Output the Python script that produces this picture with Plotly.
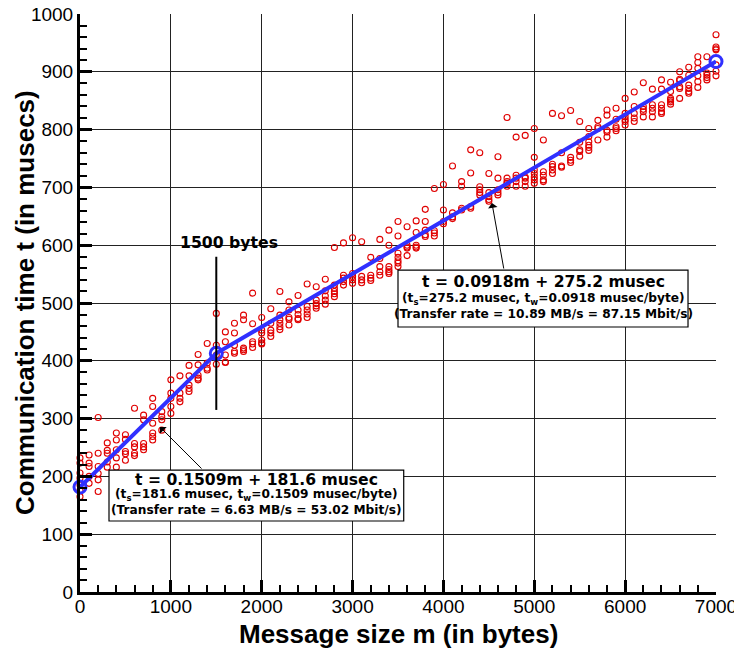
import plotly.graph_objects as go

# ---- data ----
sizes = [0, 100, 200, 300, 400, 500, 600, 700, 800, 900,
         1000, 1100, 1200, 1300, 1400, 1500, 1600, 1700, 1800, 1900,
         2000, 2100, 2200, 2300, 2400, 2500, 2600, 2700, 2800, 2900,
         3000, 3100, 3200, 3300, 3400, 3500, 3600, 3700, 3800, 3900,
         4000, 4100, 4200, 4300, 4400, 4500, 4600, 4700, 4800, 4900,
         5000, 5100, 5200, 5300, 5400, 5500, 5600, 5700, 5800, 5900,
         6000, 6100, 6200, 6300, 6400, 6500, 6600, 6700, 6800, 6900, 7000]

times_by_size = [
    [232, 223, 206, 197, 185, 176, 165],
    [237, 223, 217, 200, 188],
    [302, 240, 217, 205, 194, 174],
    [258, 245, 240, 225, 216],
    [275, 263, 246, 232, 216],
    [272, 264, 243, 239, 228],
    [318, 257, 251, 240, 236],
    [306, 298, 257, 251, 246],
    [335, 321, 292, 275, 269, 263],
    [312, 303, 298, 280],
    [367, 344, 335, 321, 309],
    [374, 344, 335, 329],
    [392, 374, 358, 352, 347],
    [411, 393, 375, 370, 367],
    [430, 396, 387, 384],
    [482, 427, 410, 394],
    [450, 433, 410, 398, 397],
    [465, 448, 427, 416, 413],
    [479, 471, 422, 419, 416],
    [517, 464, 433, 429, 423],
    [475, 453, 448, 436, 431, 429],
    [490, 465, 453, 448, 442],
    [520, 479, 471, 465, 459, 454],
    [502, 488, 475, 472, 462],
    [513, 488, 480, 473, 471],
    [533, 494, 488, 481, 475],
    [528, 505, 499, 495, 491],
    [541, 521, 512, 505, 498],
    [596, 531, 525, 520, 516, 511],
    [604, 548, 543, 537, 531],
    [613, 551, 546, 540, 534],
    [606, 546, 540, 535],
    [579, 548, 543, 539],
    [610, 577, 563, 554, 548],
    [626, 600, 563, 558, 554, 551],
    [641, 616, 586, 579, 573, 569, 563],
    [632, 600, 597, 595, 582],
    [642, 622, 600, 597, 595],
    [662, 641, 626, 618, 615],
    [698, 625, 621, 616],
    [705, 661, 641, 637],
    [737, 656, 649, 646],
    [710, 702, 664, 661],
    [765, 725, 667, 664],
    [760, 701, 696, 691, 687],
    [724, 691, 684, 679, 676],
    [753, 716, 696, 691, 687],
    [821, 716, 710, 707, 702],
    [787, 721, 716, 710, 702],
    [790, 718, 716, 710, 702],
    [802, 752, 730, 724, 718, 713, 707],
    [782, 727, 721, 713, 710],
    [828, 740, 736, 730, 724],
    [824, 760, 737, 735],
    [833, 752, 747, 743],
    [814, 778, 765, 762, 754],
    [802, 788, 779, 773, 769, 764],
    [816, 805, 802, 782],
    [834, 825, 799, 796, 787],
    [837, 818, 805, 802, 798],
    [854, 828, 822, 817, 814, 808],
    [865, 840, 828, 820, 814],
    [881, 840, 835, 831, 822],
    [870, 843, 837, 831, 822],
    [886, 870, 843, 837, 831, 828],
    [882, 866, 854, 851, 848, 844],
    [900, 887, 885, 874, 871, 854],
    [908, 894, 877, 871, 866, 863],
    [926, 916, 906, 893, 883, 873],
    [926, 898, 894, 890, 886],
    [964, 943, 940, 938, 912, 901, 893],
]

fit_m = [0, 1500, 7000]
fit_t = [181.6, 412.9, 917.8]

x_ticks = [0, 1000, 2000, 3000, 4000, 5000, 6000, 7000]
y_ticks = [0, 100, 200, 300, 400, 500, 600, 700, 800, 900, 1000]

FONT = "Liberation Sans, Arial, sans-serif"
BOXFONT = "DejaVu Sans, Verdana, sans-serif"

pts_m = [m for m, ts in zip(sizes, times_by_size) for _ in ts]
pts_t = [t for ts in times_by_size for t in ts]

fig = go.Figure()
fig.add_trace(go.Scatter(
    x=pts_m, y=pts_t, mode="markers",
    marker=dict(symbol="circle-open", size=6, color="#e00000",
                line=dict(width=1.1, color="#e00000")),
    cliponaxis=False, showlegend=False, hoverinfo="skip"))
fig.add_trace(go.Scatter(
    x=fit_m, y=fit_t, mode="lines+markers",
    line=dict(color="#3030ff", width=4),
    marker=dict(symbol="circle-open", size=12, color="#3030ff",
                line=dict(width=3, color="#3030ff")),
    cliponaxis=False, showlegend=False))

# box shapes and the 1500-byte marker line
fig.add_shape(type="line", xref="x", yref="y", x0=1500, x1=1500, y0=315, y1=580,
              line=dict(color="black", width=2))
fig.add_shape(type="rect", xref="paper", yref="paper",
              x0=0.0456, x1=0.509, y0=0.1228, y1=0.211,
              fillcolor="white", line=dict(color="black", width=1.2), layer="above")
fig.add_shape(type="rect", xref="paper", yref="paper",
              x0=0.5, x1=0.956, y0=0.4585, y1=0.557,
              fillcolor="white", line=dict(color="black", width=1.2), layer="above")

def px_y(py):
    return (592 - py) / 578.0

def px_x(px):
    return (px - 80) / 636.0

def txt(x, y, text, size, angle=0, family=FONT):
    return dict(xref="paper", yref="paper", x=x, y=y, xanchor="center", yanchor="middle",
                showarrow=False, text=text, textangle=angle,
                font=dict(size=size, family=family, color="black"))

ann = []
ann.append(txt(px_x(256), px_y(480), "<b>t = 0.1509m + 181.6 musec</b>", 15.6, family=BOXFONT))
ann.append(txt(px_x(256), px_y(495.5), "<b>(t<sub>s</sub>=181.6 musec, t<sub>w</sub>=0.1509 musec/byte)</b>", 12.2, family=BOXFONT))
ann.append(txt(px_x(256), px_y(509.5), "<b>(Transfer rate = 6.63 MB/s = 53.02 Mbit/s)</b>", 12.2, family=BOXFONT))
ann.append(txt(px_x(543), px_y(281.5), "<b>t = 0.0918m + 275.2 musec</b>", 15.6, family=BOXFONT))
ann.append(txt(px_x(543), px_y(298.5), "<b>(t<sub>s</sub>=275.2 musec, t<sub>w</sub>=0.0918 musec/byte)</b>", 12.2, family=BOXFONT))
ann.append(txt(px_x(543), px_y(313.5), "<b>(Transfer rate = 10.89 MB/s = 87.15 Mbit/s)</b>", 12.2, family=BOXFONT))
# arrows
ann.append(dict(xref="x", yref="y", axref="x", ayref="y", x=880, y=285.5, ax=1354, ay=211,
                text="", showarrow=True, arrowhead=1, arrowsize=1.6, arrowwidth=1, arrowcolor="black"))
ann.append(dict(xref="x", yref="y", axref="x", ayref="y", x=4534, y=673, ax=4667, ay=557,
                text="", showarrow=True, arrowhead=1, arrowsize=1.6, arrowwidth=1, arrowcolor="black"))
# 1500 bytes label
ann.append(dict(xref="x", yref="y", x=1640, y=604, xanchor="center", yanchor="middle", showarrow=False,
                text="<b>1500 bytes</b>", font=dict(size=15.7, family=BOXFONT, color="black")))
# axis titles
ann.append(txt(0.5, px_y(634), "<b>Message size m (in bytes)</b>", 26))
ann.append(txt(px_x(25), 0.5, "<b>Communication time t (in musecs)</b>", 26, -90))

# page body has an 8px margin, so the figure is offset by 8px
fig.update_layout(
    width=734, height=648,
    margin=dict(l=72, r=26, t=6, b=64, autoexpand=False),
    paper_bgcolor="white", plot_bgcolor="white",
    font=dict(family=FONT, size=19, color="black"),
    annotations=ann, showlegend=False,
)
common = dict(showgrid=True, gridcolor="#222", gridwidth=1.3,
              showline=True, linecolor="black", linewidth=3, mirror=False,
              ticks="inside", ticklen=12, tickwidth=3, tickcolor="black",
              zeroline=False, automargin=False, ticklabeloverflow="allow",
              tickfont=dict(size=19, family=FONT))
fig.update_xaxes(range=[0, 7000], tickvals=x_ticks, ticktext=[str(v) for v in x_ticks],
                 ticklabelstandoff=-5,
                 minor=dict(ticks="inside", ticklen=7, tickwidth=1.5, tickcolor="black",
                            dtick=200, showgrid=False), **common)
fig.update_yaxes(range=[0, 1000], tickvals=y_ticks, ticktext=[str(v) for v in y_ticks],
                 minor=dict(ticks="inside", ticklen=7, tickwidth=1.5, tickcolor="black",
                            dtick=20, showgrid=False), **common)

fig.write_html("out.html")
